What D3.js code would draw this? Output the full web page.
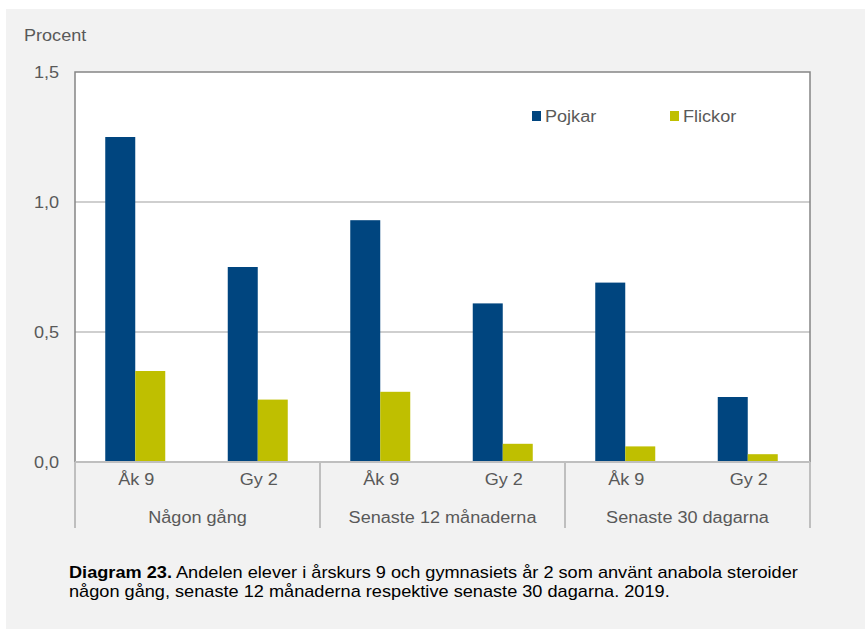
<!DOCTYPE html>
<html>
<head>
<meta charset="utf-8">
<script src="https://cdn.jsdelivr.net/npm/d3@7"></script>
<style>
  body { margin: 0; background: #fff; }
  text { font-family: "Liberation Sans", Arial, sans-serif; }
</style>
</head>
<body>
<div id="chart"></div>
<script>
// data
var groups = ["Någon gång", "Senaste 12 månaderna", "Senaste 30 dagarna"];
var grades = ["Åk 9", "Gy 2"];
var series = ["Pojkar", "Flickor"];
var pojkar = [1.25, 0.75, 0.93, 0.61, 0.69, 0.25];
var flickor = [0.35, 0.24, 0.27, 0.07, 0.06, 0.03];
var yTicks = [0, 0.5, 1.0, 1.5];
var colors = ["#00457f", "#bfbf00"];

// text in the original is a bit wider than it is tall
var stretch = "scale(1.13,1)";
var fontSize = 16;

var svgWidth = 865, svgHeight = 629;
var margin = { top: 72, right: 55, bottom: 167, left: 75 };
var chartWidth = svgWidth - margin.left - margin.right;
var chartHeight = svgHeight - margin.top - margin.bottom;

var svg = d3.select("#chart").append("svg")
    .attr("width", svgWidth)
    .attr("height", svgHeight);

// gray page background
svg.append("rect")
    .attr("x", 6).attr("y", 9)
    .attr("width", svgWidth - 6).attr("height", svgHeight - 9)
    .attr("fill", "#f2f2f2");

var chartGroup = svg.append("g")
    .attr("transform", `translate(${margin.left}, ${margin.top})`);

// build rows
var rows = [];
groups.forEach(function(g, gi) {
    grades.forEach(function(k, ki) {
        var i = gi * grades.length + ki;
        rows.push({ id: i, group: g, grade: k, values: [pojkar[i], flickor[i]] });
    });
});

var x0 = d3.scaleBand()
    .domain(rows.map(d => d.id))
    .range([0, chartWidth]);

var x1 = d3.scaleBand()
    .domain(series)
    .range([x0.bandwidth() / 2 - 31, x0.bandwidth() / 2 + 29]);

var yScale = d3.scaleLinear()
    .domain([0, 1.5])
    .range([chartHeight, 0]);

// plot area
chartGroup.append("rect")
    .attr("width", chartWidth)
    .attr("height", chartHeight)
    .attr("fill", "#fff");

// gridlines
chartGroup.append("g").selectAll("line")
    .data(yTicks.filter(t => t > 0 && t < 1.5))
    .enter()
    .append("line")
    .attr("x1", 0).attr("x2", chartWidth)
    .attr("y1", d => yScale(d)).attr("y2", d => yScale(d))
    .attr("stroke", "#bfbfbf")
    .attr("stroke-width", 1.5);

// frame: left, top, right
chartGroup.append("path")
    .attr("d", `M0,${chartHeight}V0H${chartWidth}V${chartHeight}`)
    .attr("fill", "none")
    .attr("stroke", "#858585")
    .attr("stroke-width", 1.5);

// bars
var barGroups = chartGroup.append("g").selectAll("g")
    .data(rows)
    .enter()
    .append("g")
    .attr("transform", d => `translate(${x0(d.id)}, 0)`);

barGroups.selectAll("rect")
    .data(d => d.values.map((v, i) => ({ key: series[i], value: v })))
    .enter()
    .append("rect")
    .attr("x", d => x1(d.key))
    .attr("y", d => yScale(d.value))
    .attr("width", x1.bandwidth())
    .attr("height", d => chartHeight - yScale(d.value))
    .attr("fill", (d, i) => colors[i]);

// y axis labels
var yAxis = d3.axisLeft(yScale)
    .tickValues(yTicks)
    .tickSize(0)
    .tickPadding(14)
    .tickFormat(d => d3.format(".1f")(d).replace(".", ","));
var yAxisG = chartGroup.append("g").call(yAxis);
yAxisG.select(".domain").remove();
yAxisG.selectAll("text")
    .attr("font-size", fontSize)
    .attr("fill", "#595959")
    .attr("font-family", "Liberation Sans, Arial, sans-serif")
    .attr("transform", stretch);

// bottom axis line
chartGroup.append("line")
    .attr("x1", 0).attr("x2", chartWidth)
    .attr("y1", chartHeight).attr("y2", chartHeight)
    .attr("stroke", "#bfbfbf")
    .attr("stroke-width", 2);

// x category labels
var xAxis = d3.axisBottom(x0)
    .tickSize(0)
    .tickPadding(12)
    .tickFormat(i => rows[i].grade);
var xAxisG = chartGroup.append("g")
    .attr("transform", `translate(0, ${chartHeight})`)
    .call(xAxis);
xAxisG.select(".domain").remove();
xAxisG.selectAll("text")
    .attr("font-size", fontSize)
    .attr("fill", "#595959")
    .attr("font-family", "Liberation Sans, Arial, sans-serif")
    .attr("transform", stretch);

// group separators and labels
var groupWidth = chartWidth / groups.length;
chartGroup.append("g").selectAll("line")
    .data(d3.range(groups.length + 1))
    .enter()
    .append("line")
    .attr("x1", d => d * groupWidth).attr("x2", d => d * groupWidth)
    .attr("y1", chartHeight).attr("y2", chartHeight + 66)
    .attr("stroke", "#bfbfbf")
    .attr("stroke-width", 2);

chartGroup.append("g").selectAll("g")
    .data(groups)
    .enter()
    .append("g")
    .attr("transform", (d, i) => `translate(${(i + 0.5) * groupWidth}, ${chartHeight + 61}) ${stretch}`)
    .append("text")
    .attr("text-anchor", "middle")
    .attr("font-size", fontSize)
    .attr("fill", "#595959")
    .text(d => d);

// y unit label
svg.append("g")
    .attr("transform", `translate(24, 41) ${stretch}`)
    .append("text")
    .attr("font-size", fontSize)
    .attr("fill", "#595959")
    .text("Procent");

// legend
var legendX = [532, 670];
var legend = chartGroup.append("g").selectAll("g")
    .data(series)
    .enter()
    .append("g")
    .attr("transform", (d, i) => `translate(${legendX[i] - margin.left}, ${111 - margin.top})`);
legend.append("rect")
    .attr("width", 9).attr("height", 10)
    .attr("fill", (d, i) => colors[i]);
legend.append("g")
    .attr("transform", `translate(13, 10.5) ${stretch}`)
    .append("text")
    .attr("font-size", 16)
    .attr("fill", "#595959")
    .text(d => d);

// caption
var caption = svg.append("g")
    .attr("transform", `translate(69, 578) scale(1.15,1)`)
    .append("text")
    .attr("font-size", 15.8)
    .attr("fill", "#000");
caption.append("tspan")
    .attr("font-weight", "bold")
    .text("Diagram 23.");
caption.append("tspan")
    .text(" Andelen elever i årskurs 9 och gymnasiets år 2 som använt anabola steroider");
svg.append("g")
    .attr("transform", `translate(69, 597) scale(1.15,1)`)
    .append("text")
    .attr("font-size", 15.8)
    .attr("fill", "#000")
    .text("någon gång, senaste 12 månaderna respektive senaste 30 dagarna. 2019.");
</script>
</body>
</html>
